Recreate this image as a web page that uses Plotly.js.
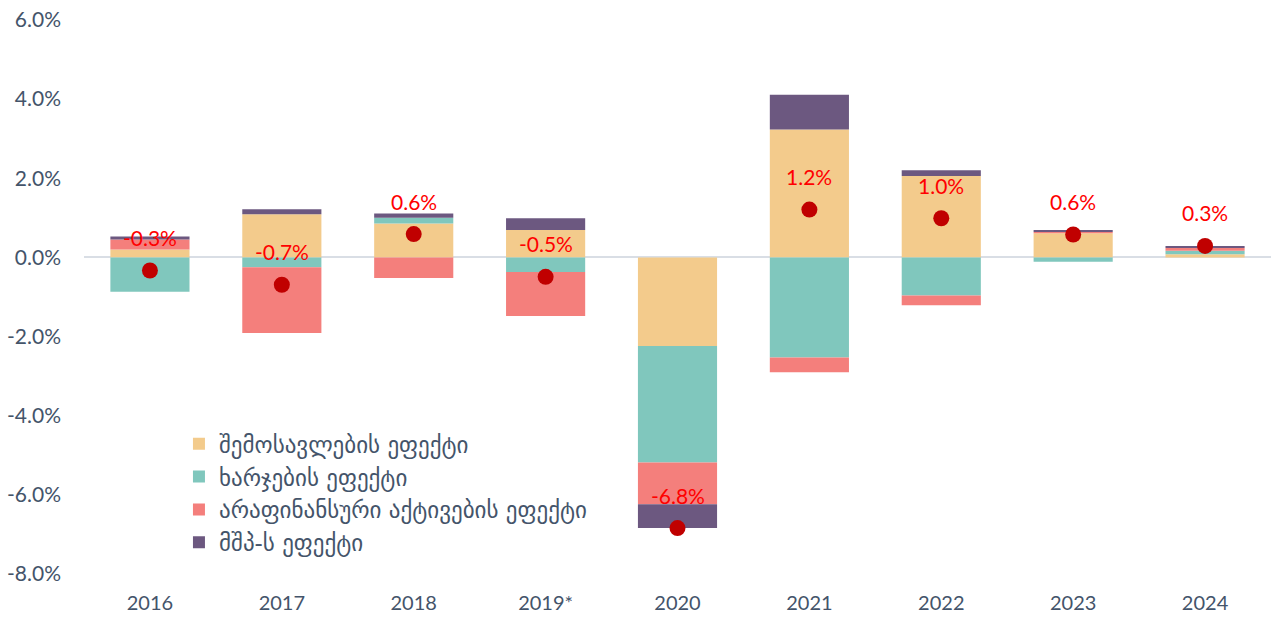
<!DOCTYPE html>
<html>
<head>
<meta charset="utf-8">
<script src="https://cdn.plot.ly/plotly-3.0.1.min.js"></script>
<style>html,body{margin:0;padding:0;background:#fff;}#chart{width:1271px;height:618px;}</style>
</head>
<body>
<div id="chart"></div>
<script>
const years = ["2016","2017","2018","2019*","2020","2021","2022","2023","2024"];
const incomeEffect   = [0.20, 1.09, 0.86, 0.69, -2.24, 3.23, 2.06, 0.61, 0.08];
const expenseEffect  = [-0.87, -0.25, 0.14, -0.37, -2.94, -2.53, -0.96, -0.11, 0.09];
const nonFinEffect   = [0.25, -1.66, -0.52, -1.11, -1.06, -0.37, -0.25, 0.03, 0.07];
const gdpEffect      = [0.08, 0.13, 0.11, 0.30, -0.60, 0.88, 0.14, 0.05, 0.05];
const totalChange    = [-0.33, -0.69, 0.59, -0.49, -6.84, 1.21, 0.99, 0.58, 0.29];
const totalLabels    = ["-0.3%","-0.7%","0.6%","-0.5%","-6.8%","1.2%","1.0%","0.6%","0.3%"];
const yTickVals      = [-0.08,-0.06,-0.04,-0.02,0,0.02,0.04,0.06];
const yTickText      = ["-8.0%","-6.0%","-4.0%","-2.0%","0.0%","2.0%","4.0%","6.0%"];
const seriesNames = ["შემოსავლების ეფექტი","ხარჯების ეფექტი","არაფინანსური აქტივების ეფექტი","მშპ-ს ეფექტი"];
const seriesColors = ["#F3CB8C","#80C7BD","#F47F7C","#6C5880"];

const pct = a => a.map(v => v/100);
const seriesData = [incomeEffect, expenseEffect, nonFinEffect, gdpEffect];
const traces = seriesData.map((d,i) => ({
  type:'bar', x: years, y: pct(d), name: seriesNames[i],
  marker:{color: seriesColors[i], line:{width:0}},
  hoverinfo:'skip'
}));
traces.push({
  type:'scatter', mode:'markers', x: years, y: pct(totalChange),
  marker:{color:'#C00000', size:16}, showlegend:false, hoverinfo:'skip'
});

const tickFont = {family:'Lato, "DejaVu Sans", sans-serif', size:21, color:'#44546A'};
const annotations = years.map((y,i) => ({
  x: i, y: totalChange[i]/100, xref:'x', yref:'y', text: totalLabels[i], showarrow:false,
  yshift: 33, font:{family:'Lato, "DejaVu Sans", sans-serif', size:21, color:'#FF0000'}
}));

const layout = {
  width:1271, height:618,
  margin:{l:84, r:0, t:20, b:44},
  paper_bgcolor:'#ffffff', plot_bgcolor:'#ffffff',
  barmode:'relative', bargap:0.4,
  showlegend:true,
  legend:{x:0.08, y:0.274, xanchor:'left', yanchor:'top', traceorder:'normal',
    font:{family:'"DejaVu Sans", sans-serif', size:23, color:'#44546A'},
    bgcolor:'rgba(0,0,0,0)', itemwidth:30, tracegroupgap:0},
  xaxis:{type:'category', range:[-0.5, 8.5], autorange:false, showgrid:false, zeroline:false, showline:false, ticks:'',
    tickfont:{family:'Lato, "DejaVu Sans", sans-serif', size:20, color:'#44546A'}, ticklabelstandoff:15},
  yaxis:{range:[-0.08,0.06], autorange:false, tickvals:yTickVals, ticktext:yTickText, showgrid:false,
    zeroline:true, zerolinecolor:'#D9DEE5', zerolinewidth:2, layer:'above traces',
    showline:false, ticks:'', tickfont:tickFont, ticklabelstandoff:22},
  annotations: annotations
};
Plotly.newPlot('chart', traces, layout, {displayModeBar:false, staticPlot:true});
</script>
</body>
</html>
